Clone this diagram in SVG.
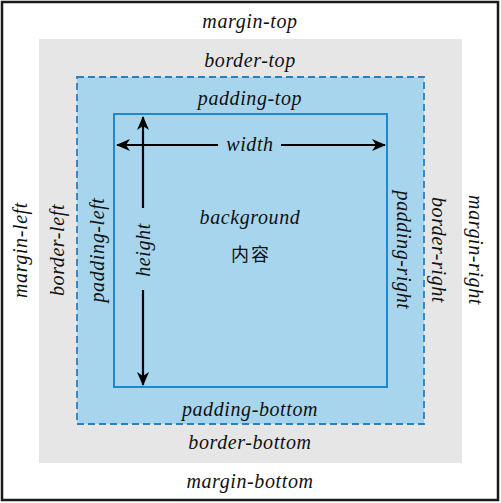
<svg xmlns="http://www.w3.org/2000/svg" width="501" height="503" viewBox="0 0 501 503">
<defs>
<style>
text{font-family:"Liberation Serif","Noto Sans CJK SC",serif;font-style:italic;font-size:20px;letter-spacing:0.6px;fill:#111;text-anchor:middle;}
.cjk{font-style:normal;font-size:18px;letter-spacing:2px;}
.arr{stroke:#000;stroke-width:2.2;fill:none;}
</style>
<marker id="ah" viewBox="0 0 14 12" refX="13" refY="6" markerWidth="14" markerHeight="12" markerUnits="userSpaceOnUse" orient="auto">
<path d="M0,0 L14,6 L0,12 L4,6 Z" fill="#000"/>
</marker>
</defs>
<g id="margin">
<rect x="2" y="2" width="496" height="498" fill="#fff" stroke="#1a1a1a" stroke-width="2.5"/>
<text x="250" y="28">margin-top</text>
<text x="250" y="488">margin-bottom</text>
<text transform="translate(27,250) rotate(-90)">margin-left</text>
<text transform="translate(469,250) rotate(90)">margin-right</text>
</g>
<g id="border">
<rect x="39" y="39" width="423" height="424" fill="#e6e6e6"/>
<text x="250" y="67">border-top</text>
<text x="250" y="449">border-bottom</text>
<text transform="translate(64,250) rotate(-90)">border-left</text>
<text transform="translate(432,250) rotate(90)">border-right</text>
</g>
<g id="padding">
<rect x="77" y="77" width="347" height="347" fill="#a8d5ee" stroke="#2a80bd" stroke-width="1.8" stroke-dasharray="7,4"/>
<text x="250" y="105">padding-top</text>
<text x="250" y="416">padding-bottom</text>
<text transform="translate(104,250) rotate(-90)">padding-left</text>
<text transform="translate(397,250) rotate(90)">padding-right</text>
</g>
<g id="content">
<rect x="114" y="114" width="273" height="273" fill="#a8d5ee" stroke="#1f88cc" stroke-width="2"/>
<text x="250" y="224">background</text>
<text class="cjk" x="251" y="261">内容</text>
</g>
<g id="connectors">
<line class="arr" x1="218" y1="145" x2="117" y2="145" marker-end="url(#ah)"/>
<line class="arr" x1="281" y1="145" x2="385" y2="145" marker-end="url(#ah)"/>
<line class="arr" x1="143" y1="208" x2="143" y2="117" marker-end="url(#ah)"/>
<line class="arr" x1="143" y1="290" x2="143" y2="385" marker-end="url(#ah)"/>
<text x="250" y="151">width</text>
<text transform="translate(150,250) rotate(-90)">height</text>
</g>
</svg>
